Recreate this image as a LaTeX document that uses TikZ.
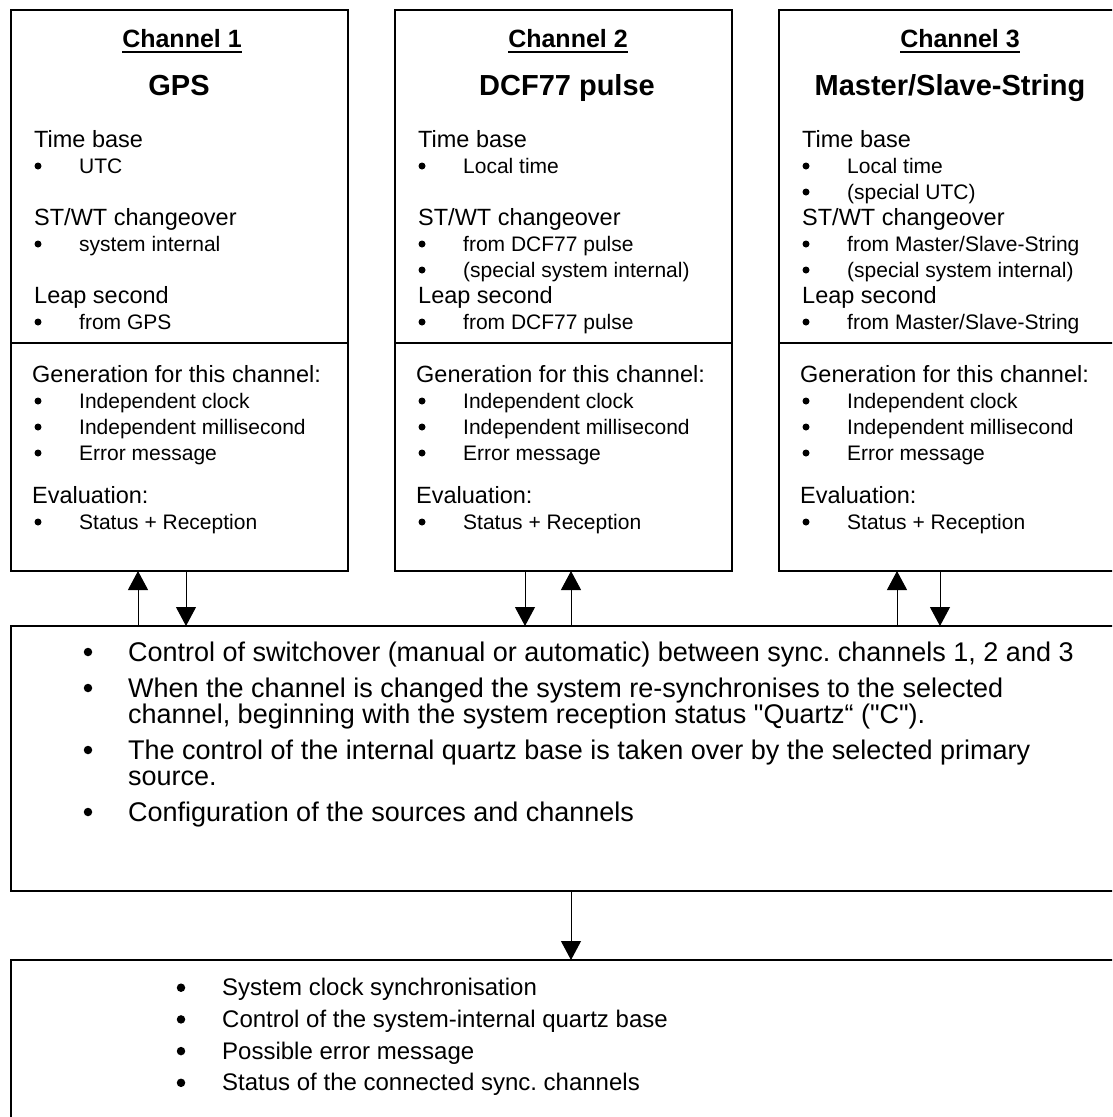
\documentclass[tikz,border=0pt]{standalone}
\usepackage{fontspec}
\setmainfont{Liberation Sans}[Ligatures=TeXOff]
\usetikzlibrary{arrows.meta, positioning}
\frenchspacing

\begin{document}
\begin{tikzpicture}[x=1pt, y=-1pt,
    >={Triangle[width=20pt, length=19pt]},
    chanbox/.style={draw, line width=1.5pt, minimum width=337pt, minimum height=561pt,
                    anchor=north west, inner sep=0pt, outer sep=0pt},
    widebox/.style={draw, line width=1.5pt, minimum width=1200pt,
                    anchor=north west, inner sep=0pt, outer sep=0pt},
    txt/.style={anchor=base west, inner sep=0pt},
    head/.style={txt, font=\fontsize{23.5}{28}\selectfont},
    item/.style={txt, font=\fontsize{21}{26}\selectfont},
    ctrltxt/.style={txt, font=\fontsize{27}{30}\selectfont},
    systxt/.style={txt, font=\fontsize{24}{28}\selectfont},
    bul/.style={circle, fill, inner sep=0pt, minimum size=7pt},
    bigbul/.style={bul, minimum size=8.5pt},
    chan/.style={anchor=base, inner sep=0pt, font=\fontsize{25}{30}\selectfont\bfseries},
    src/.style={anchor=base, inner sep=0pt, font=\fontsize{29}{34}\selectfont\bfseries},
    arr/.style={->, line width=1pt},
  ]
  \fill[white] (0,0) rectangle (1112,1117);
  \useasboundingbox (0,0) rectangle (1112,1117);
  \clip (0,0) rectangle (1112,1117);

  % channel boxes
  \node[chanbox] (ch1) at (11,10) {};
  \node[chanbox] (ch2) at (395,10) {};
  \node[chanbox, minimum width=400pt] (ch3) at (779,10) {};
  \foreach \c in {ch1, ch2, ch3}
    \draw[line width=1.5pt] (\c.west |- 0,343) -- (\c.east |- 0,343);

  % headers
  \node[chan] (no1) at (182,47) {Channel 1};
  \node[chan] (no2) at (568,47) {Channel 2};
  \node[chan] (no3) at (960,47) {Channel 3};
  \foreach \c in {no1, no2, no3}
    \draw[line width=1.8pt] ([yshift=-5pt]\c.base west) -- ([yshift=-5pt]\c.base east);
  \node[src] (src1) at (179,95) {GPS};
  \node[src] (src2) at (567,95) {DCF77 pulse};
  \node[src] (src3) at (950,95) {Master/Slave-String};

  % channel 1
  \node[head] (tb1) at (34,147) {Time base};
  \node[bul] (tb1b) at (38,166) {};
  \node[item] (tb1i) at (79,173) {UTC};
  \node[head] (sw1) at (34,225) {ST/WT changeover};
  \node[bul] (sw1b) at (38,244) {};
  \node[item] (sw1i) at (79,251) {system internal};
  \node[head] (ls1) at (34,303) {Leap second};
  \node[bul] (ls1b) at (38,322) {};
  \node[item] (ls1i) at (79,329) {from GPS};

  % channel 2
  \node[head] (tb2) at (418,147) {Time base};
  \node[bul] (tb2b) at (422,166) {};
  \node[item] (tb2i) at (463,173) {Local time};
  \node[head] (sw2) at (418,225) {ST/WT changeover};
  \foreach \t [count=\k] in {from DCF77 pulse, (special system internal)} {
    \node[bul] (sw2b\k) at (422,218+26*\k) {};
    \node[item] (sw2i\k) at (463,225+26*\k) {\t};
  }
  \node[head] (ls2) at (418,303) {Leap second};
  \node[bul] (ls2b) at (422,322) {};
  \node[item] (ls2i) at (463,329) {from DCF77 pulse};

  % channel 3
  \node[head] (tb3) at (802,147) {Time base};
  \foreach \t [count=\k] in {Local time, (special UTC)} {
    \node[bul] (tb3b\k) at (806,140+26*\k) {};
    \node[item] (tb3i\k) at (847,147+26*\k) {\t};
  }
  \node[head] (sw3) at (802,225) {ST/WT changeover};
  \foreach \t [count=\k] in {from Master/Slave-String, (special system internal)} {
    \node[bul] (sw3b\k) at (806,218+26*\k) {};
    \node[item] (sw3i\k) at (847,225+26*\k) {\t};
  }
  \node[head] (ls3) at (802,303) {Leap second};
  \node[bul] (ls3b) at (806,322) {};
  \node[item] (ls3i) at (847,329) {from Master/Slave-String};

  % lower part, same for all channels
  \foreach \bx/\n in {11/1, 395/2, 779/3} {
    \node[head] (gen\n) at (\bx+21,382) {Generation for this channel:};
    \foreach \t [count=\k] in {Independent clock, Independent millisecond, Error message} {
      \node[bul] (gen\n b\k) at (\bx+27,375+26*\k) {};
      \node[item] (gen\n i\k) at (\bx+68,382+26*\k) {\t};
    }
    \node[head] (ev\n) at (\bx+21,503) {Evaluation:};
    \node[bul] (ev\n b) at (\bx+27,522) {};
    \node[item] (ev\n i) at (\bx+68,529) {Status + Reception};
  }

  % control box
  \node[widebox, minimum height=265pt] (ctrl) at (11,626) {};
  \node[bigbul] (c1b) at (88,652) {};
  \node[ctrltxt] (c1) at (128,661) {Control of switchover (manual or automatic) between sync. channels 1, 2 and 3};
  \node[bigbul] (c2b) at (88,688) {};
  \node[ctrltxt] (c2) at (128,697) {When the channel is changed the system re-synchronises to the selected};
  \node[ctrltxt] (c2x) at (128,723) {channel, beginning with the system reception status "Quartz“ ("C").};
  \node[bigbul] (c3b) at (88,750) {};
  \node[ctrltxt] (c3) at (128,759) {The control of the internal quartz base is taken over by the selected primary};
  \node[ctrltxt] (c3x) at (128,785) {source.};
  \node[bigbul] (c4b) at (88,812) {};
  \node[ctrltxt] (c4) at (128,821) {Configuration of the sources and channels};

  % system box
  \node[widebox, minimum height=300pt] (sys) at (11,960) {};
  \foreach \t [count=\k] in {System clock synchronisation, Control of the system-internal quartz base,
                             Possible error message, Status of the connected sync. channels} {
    \node[bigbul] (s\k b) at (181,956+31.7*\k) {};
    \node[systxt] (s\k) at (222,964+31.7*\k) {\t};
  }

  % connectors
  \draw[arr] (138,0 |- ctrl.north) -- (138,0 |- ch1.south);
  \draw[arr] (186,0 |- ch1.south) -- (186,0 |- ctrl.north);
  \draw[arr] (525,0 |- ch2.south) -- (525,0 |- ctrl.north);
  \draw[arr] (571,0 |- ctrl.north) -- (571,0 |- ch2.south);
  \draw[arr] (897,0 |- ctrl.north) -- (897,0 |- ch3.south);
  \draw[arr] (940,0 |- ch3.south) -- (940,0 |- ctrl.north);
  \draw[arr] (571,0 |- ctrl.south) -- (571,0 |- sys.north);
\end{tikzpicture}
\end{document}
